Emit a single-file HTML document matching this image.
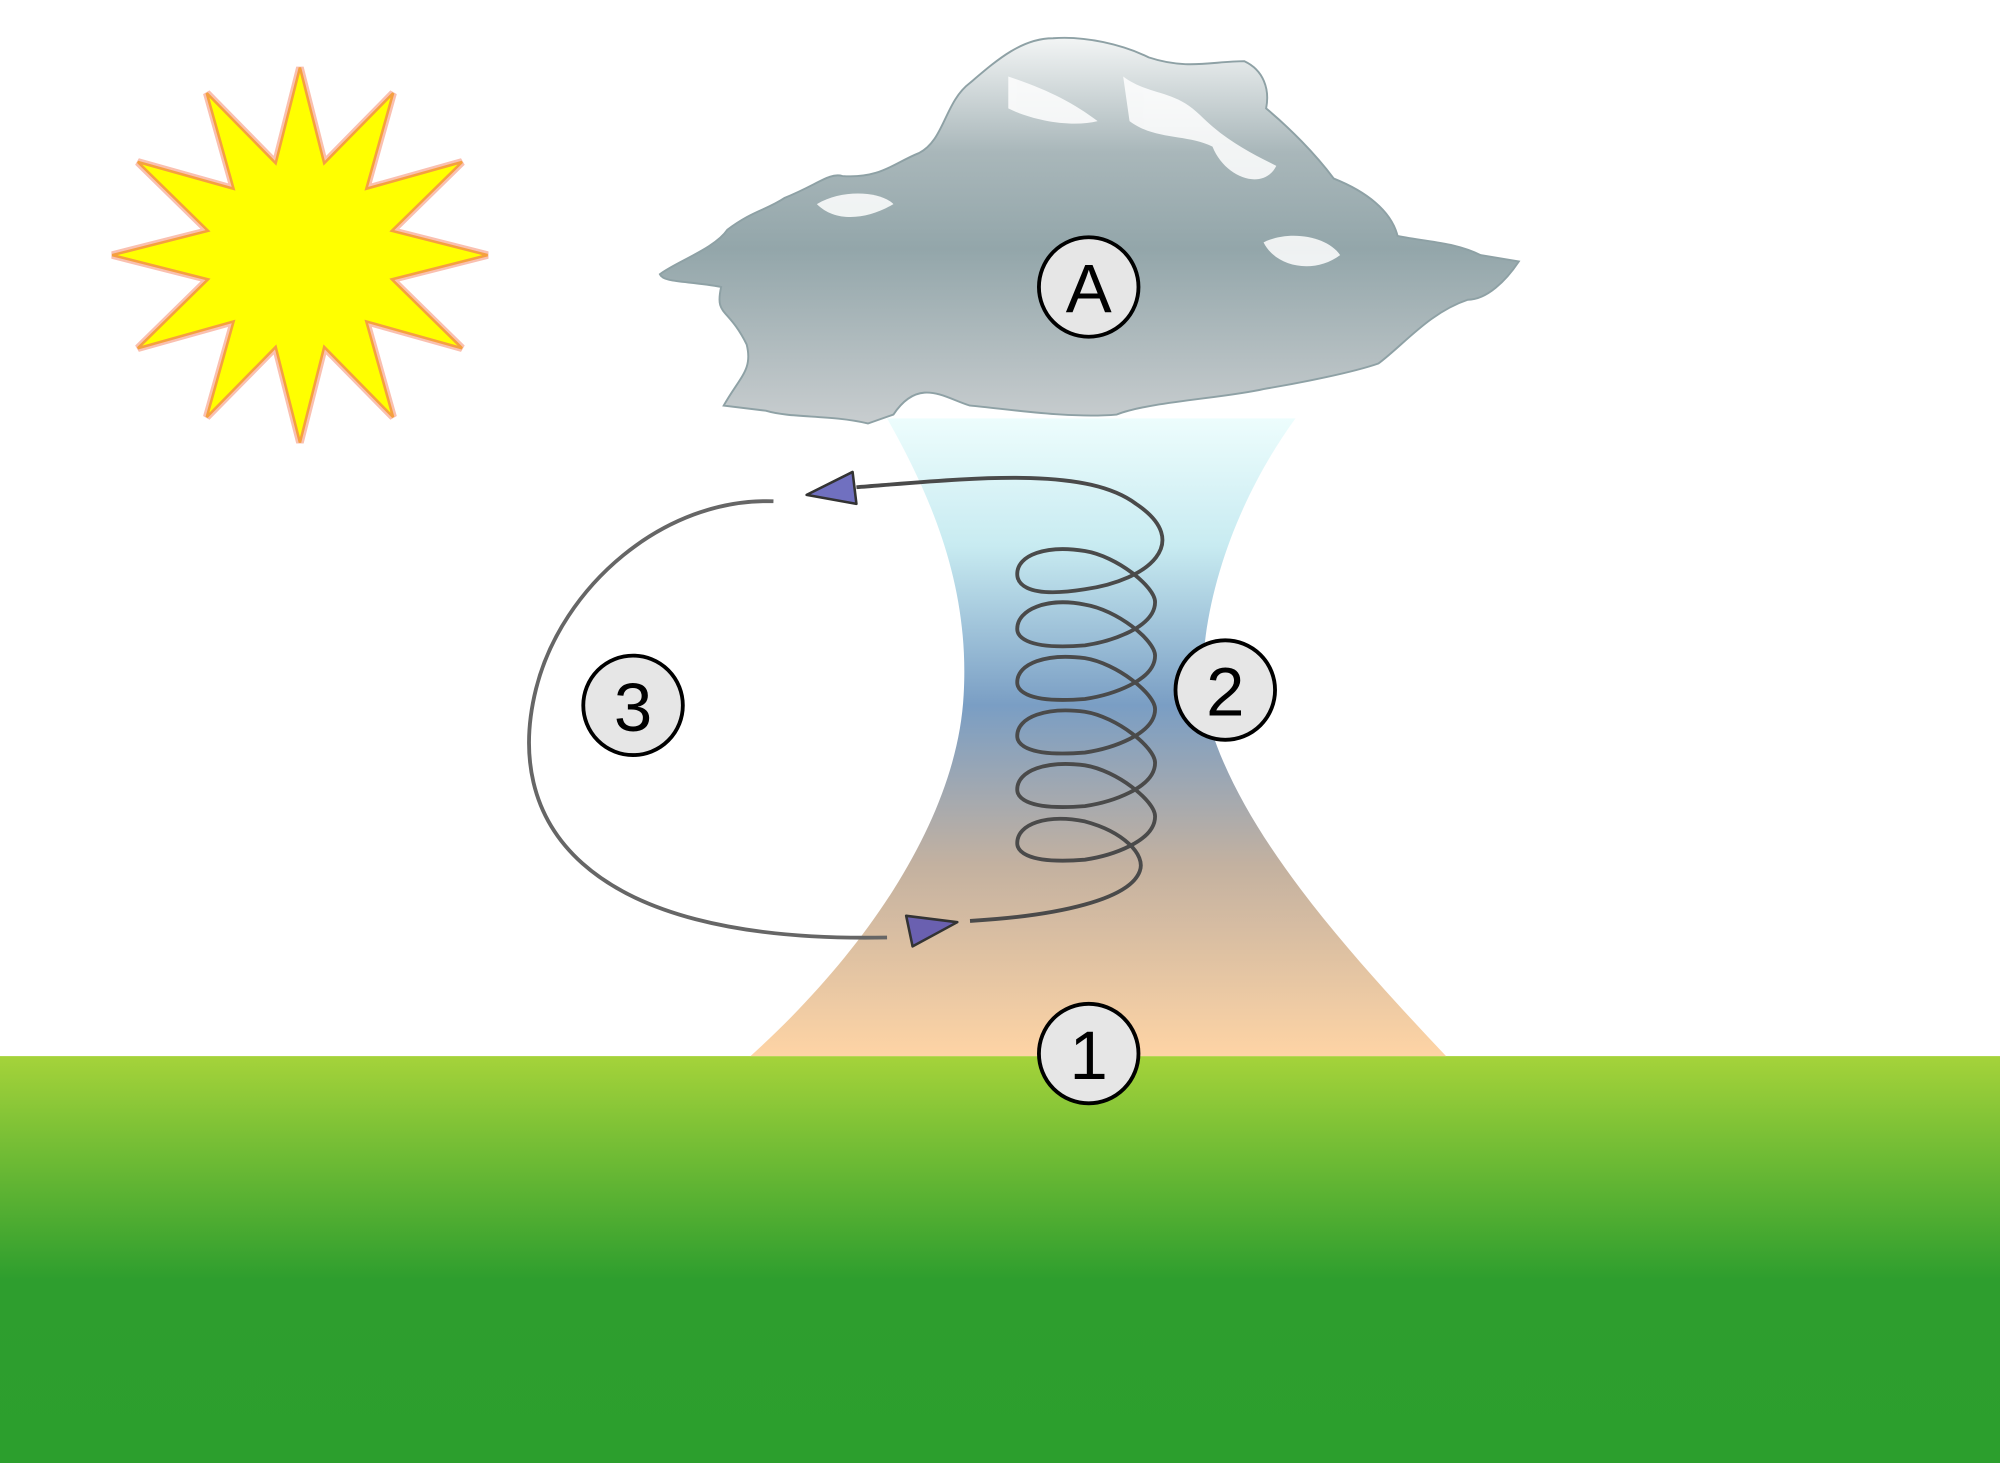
<!DOCTYPE html>
<html><head><meta charset="utf-8"><style>html,body{margin:0;padding:0;background:#fff}svg{display:block}</style></head><body>
<svg width="2000" height="1463" viewBox="0 0 1567 1147" preserveAspectRatio="none" xmlns="http://www.w3.org/2000/svg">
<defs>
<linearGradient id="g" x1="0" y1="0" x2="0" y2="1">
<stop offset="0" stop-color="#a5d33a"/><stop offset="0.55" stop-color="#2e9e2e"/><stop offset="1" stop-color="#2c9f2d"/></linearGradient>
<linearGradient id="f" x1="0" y1="328" x2="0" y2="828" gradientUnits="userSpaceOnUse">
<stop offset="0" stop-color="#edfdfd"/><stop offset="0.2" stop-color="#c8ebf1"/><stop offset="0.45" stop-color="#7a9ec4"/><stop offset="0.7" stop-color="#c3b1a0"/><stop offset="1" stop-color="#fed4a5"/></linearGradient>
<linearGradient id="c" x1="0" y1="28" x2="0" y2="332" gradientUnits="userSpaceOnUse">
<stop offset="0" stop-color="#f4f6f6"/><stop offset="0.3" stop-color="#a9b7ba"/><stop offset="0.55" stop-color="#93a6aa"/><stop offset="1" stop-color="#c8cdcf"/></linearGradient>
</defs>
<rect x="0" y="828" width="1567" height="319" fill="url(#g)"/>
<path d="M695 328 L1015 328 C970 390 940 470 942 545 C960 640 1050 740 1133 828 L588 828 C680 745 750 640 755 545 C760 460 730 390 695 328Z" fill="url(#f)"/>
<path d="M567 318 C580 295 590 290 585 270 C570 240 560 248 565 225 C540 220 520 222 517 215 C530 205 560 195 570 180 C590 165 600 165 615 155 C640 145 650 135 660 138 C690 140 700 128 720 120 C740 110 740 80 760 65 C780 48 800 30 825 30 C850 28 880 35 900 45 C930 55 950 48 975 48 C990 55 995 70 992 85 C1010 100 1030 120 1045 140 C1070 150 1090 165 1095 185 C1120 190 1140 190 1160 200 L1190 205 C1180 220 1165 235 1150 235 C1120 245 1100 270 1080 285 C1060 292 1020 300 990 305 C960 312 900 315 875 325 C840 328 800 322 760 318 C740 312 720 295 700 325 L680 332 C650 325 620 328 600 322Z" fill="url(#c)" stroke="#8ea1a5" stroke-width="1.5"/>
<g fill="#fff" opacity="0.85">
<path d="M880 60 C900 75 920 70 940 90 C960 110 980 120 1000 130 C990 150 960 140 950 115 C930 105 905 110 885 95Z"/>
<path d="M990 190 C1010 180 1040 185 1050 200 C1030 215 1000 210 990 190Z"/>
<path d="M640 160 C660 148 690 150 700 160 C680 172 655 175 640 160Z"/>
<path d="M790 60 C820 70 840 80 860 95 C840 100 810 95 790 85Z"/>
</g>
<polygon points="235,53 254,128 308,73 287,148 362,127 307,181 382,200 307,219 362,273 287,252 308,327 254,272 235,347 216,272 162,327 183,252 108,273 163,219 88,200 163,181 108,127 183,148 162,73 216,128" fill="#ffff00" stroke="#fac0b0" stroke-width="6" stroke-linejoin="miter"/>
<polygon points="235,53 254,128 308,73 287,148 362,127 307,181 382,200 307,219 362,273 287,252 308,327 254,272 235,347 216,272 162,327 183,252 108,273 163,219 88,200 163,181 108,127 183,148 162,73 216,128" fill="#ffff00" stroke="#f5a040" stroke-width="2"/>
<g fill="none" stroke-width="3">
<path d="M606 393 C520 390 440 460 420 540 C395 640 450 740 695 735" stroke="#666"/>
<path d="M671 382 C760 375 850 365 890 395 C935 425 900 455 850 462 C800 470 797 455 797 450 C797 435 820 427 850 432 C875 436 905 460 905 472 C905 492 870 503 850 506 C800 510 797 497 797 493 C797 478 820 468 850 474 C875 478 905 502 905 514 C905 534 870 545 850 548 C800 552 797 539 797 535 C797 520 820 512 850 516 C875 520 905 544 905 556 C905 576 870 587 850 590 C800 594 797 581 797 577 C797 562 820 554 850 558 C875 562 905 586 905 598 C905 618 870 629 850 632 C800 636 797 623 797 619 C797 604 820 596 850 600 C875 604 905 628 905 640 C905 660 870 671 850 674 C800 678 797 665 797 661 C797 646 820 638 850 644 C880 652 898 670 893 683 C885 705 830 718 760 722" stroke="#4a4a4a"/>
</g>
<polygon points="632,388 668,370 671,395" fill="#7070c0" stroke="#333" stroke-width="2" stroke-linejoin="round"/>
<polygon points="710,718 750,723 715,742" fill="#6a60b0" stroke="#333" stroke-width="2" stroke-linejoin="round"/>
<g fill="#e6e6e6" stroke="#000" stroke-width="3">
<circle cx="853" cy="225" r="39"/><circle cx="960" cy="541" r="39"/><circle cx="496" cy="553" r="39"/><circle cx="853" cy="826" r="39"/></g>
<g font-family="Liberation Sans, sans-serif" font-size="54" text-anchor="middle" fill="#000">
<text x="853" y="245">A</text><text x="960" y="561">2</text><text x="496" y="573">3</text><text x="853" y="846">1</text></g>
</svg>
</body></html>
